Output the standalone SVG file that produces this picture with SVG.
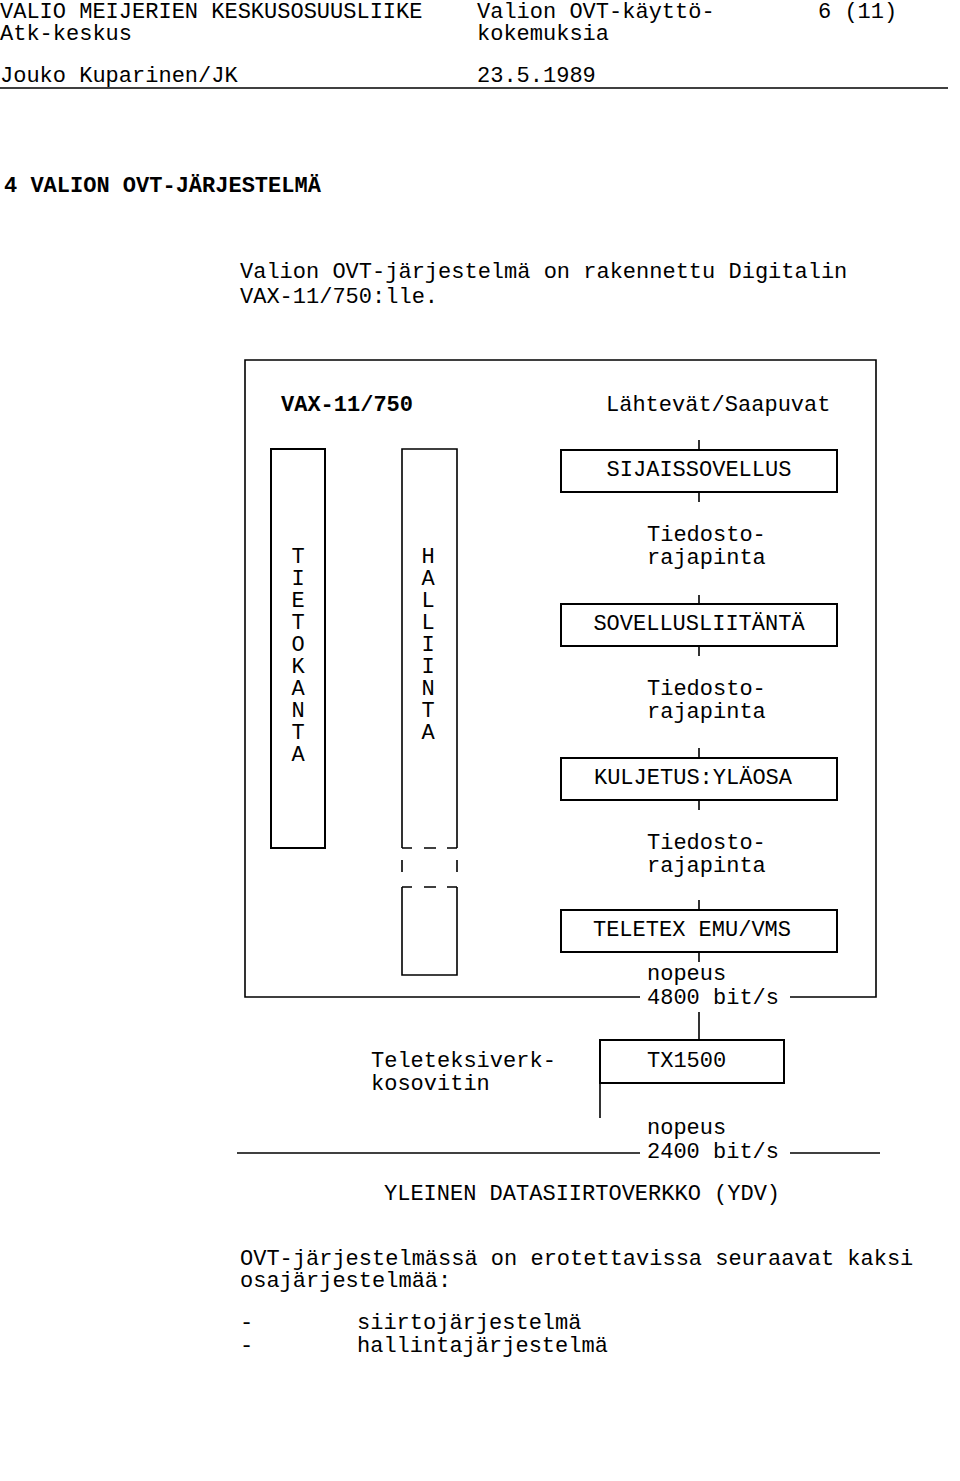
<svg xmlns="http://www.w3.org/2000/svg" width="960" height="1481" viewBox="0 0 960 1481">
<style>
text{font-family:"Liberation Mono","DejaVu Sans Mono",monospace;font-size:22px;fill:#000}
.b{font-weight:bold}
.c{text-anchor:middle}
.box{fill:none;stroke:#000;stroke-width:2}
.ln{stroke:#000;stroke-width:1.6;fill:none}
</style>
<rect width="960" height="1481" fill="#fff"/>
<g id="header">
<text x="0" y="18">VALIO MEIJERIEN KESKUSOSUUSLIIKE</text>
<text x="477" y="18">Valion OVT-käyttö-</text>
<text x="818" y="18">6 (11)</text>
<text x="0" y="40">Atk-keskus</text>
<text x="477" y="40">kokemuksia</text>
<text x="0" y="82">Jouko Kuparinen/JK</text>
<text x="477" y="82">23.5.1989</text>
<line class="ln" x1="0" y1="88" x2="948" y2="88"/>
<text class="b" x="4" y="192">4  VALION OVT-JÄRJESTELMÄ</text>
<text x="240" y="278">Valion OVT-järjestelmä on rakennettu Digitalin</text>
<text x="240" y="303">VAX-11/750:lle.</text>
</g>
<g id="connectors">
<path class="ln" d="M640 997 H245 V360 H876 V997 H790"/>
<line class="ln" x1="699" y1="440" x2="699" y2="450"/>
<line class="ln" x1="699" y1="492" x2="699" y2="502"/>
<line class="ln" x1="699" y1="595" x2="699" y2="604"/>
<line class="ln" x1="699" y1="646" x2="699" y2="656"/>
<line class="ln" x1="699" y1="748" x2="699" y2="758"/>
<line class="ln" x1="699" y1="800" x2="699" y2="810"/>
<line class="ln" x1="699" y1="900" x2="699" y2="910"/>
<line class="ln" x1="699" y1="952" x2="699" y2="962"/>
<line class="ln" x1="699" y1="1012" x2="699" y2="1040"/>
<line class="ln" x1="600" y1="1083" x2="600" y2="1118"/>
<line class="ln" x1="237" y1="1153" x2="640" y2="1153"/>
<line class="ln" x1="790" y1="1153" x2="880" y2="1153"/>
</g>
<g id="vax">
<text class="b" x="281" y="411">VAX-11/750</text>
<text x="606" y="411">Lähtevät/Saapuvat</text>
</g>
<g id="tietokanta">
<rect class="box" x="271" y="449" width="54" height="399"/>
<text class="c" x="298" y="563">T</text><text class="c" x="298" y="585">I</text><text class="c" x="298" y="607">E</text><text class="c" x="298" y="629">T</text><text class="c" x="298" y="651">O</text><text class="c" x="298" y="673">K</text><text class="c" x="298" y="695">A</text><text class="c" x="298" y="717">N</text><text class="c" x="298" y="739">T</text><text class="c" x="298" y="761">A</text>
</g>
<g id="hallinta">
<path class="ln" d="M402 848 V449 H457 V848"/>
<path class="ln" d="M402 848 H412 M424 848 H436 M447 848 H457"/>
<path class="ln" d="M402 860 V872 M457 860 V872"/>
<path class="ln" d="M402 887 H412 M424 887 H436 M447 887 H457"/>
<path class="ln" d="M402 887 V975 H457 V887"/>
<text class="c" x="428" y="563">H</text><text class="c" x="428" y="585">A</text><text class="c" x="428" y="607">L</text><text class="c" x="428" y="629">L</text><text class="c" x="428" y="651">I</text><text class="c" x="428" y="673">I</text><text class="c" x="428" y="695">N</text><text class="c" x="428" y="717">T</text><text class="c" x="428" y="739">A</text>
</g>
<g id="sijais"><rect class="box" x="561" y="450" width="276" height="42"/><text class="c" x="699" y="476">SIJAISSOVELLUS</text></g>
<g id="rp1"><text x="647" y="541">Tiedosto-</text><text x="647" y="564">rajapinta</text></g>
<g id="sovl"><rect class="box" x="561" y="604" width="276" height="42"/><text class="c" x="699" y="630">SOVELLUSLIITÄNTÄ</text></g>
<g id="rp2"><text x="647" y="695">Tiedosto-</text><text x="647" y="718">rajapinta</text></g>
<g id="kulj"><rect class="box" x="561" y="758" width="276" height="42"/><text class="c" x="693" y="784">KULJETUS:YLÄOSA</text></g>
<g id="rp3"><text x="647" y="849">Tiedosto-</text><text x="647" y="872">rajapinta</text></g>
<g id="teletex"><rect class="box" x="561" y="910" width="276" height="42"/><text class="c" x="692" y="936">TELETEX EMU/VMS</text></g>
<g id="nop1"><text x="647" y="980">nopeus</text><text x="647" y="1004">4800 bit/s</text></g>
<g id="tx"><rect class="box" x="600" y="1040" width="184" height="43"/><text x="647" y="1067">TX1500</text>
<text x="371" y="1067">Teleteksiverk-</text><text x="371" y="1090">kosovitin</text></g>
<g id="nop2"><text x="647" y="1134">nopeus</text><text x="647" y="1158">2400 bit/s</text></g>
<g id="ydv"><text x="384" y="1200">YLEINEN DATASIIRTOVERKKO (YDV)</text></g>
<g id="footer">
<text x="240" y="1265">OVT-järjestelmässä on erotettavissa seuraavat kaksi</text>
<text x="240" y="1287">osajärjestelmää:</text>
<text x="240" y="1329">-</text><text x="357" y="1329">siirtojärjestelmä</text>
<text x="240" y="1352">-</text><text x="357" y="1352">hallintajärjestelmä</text>
</g>
</svg>
